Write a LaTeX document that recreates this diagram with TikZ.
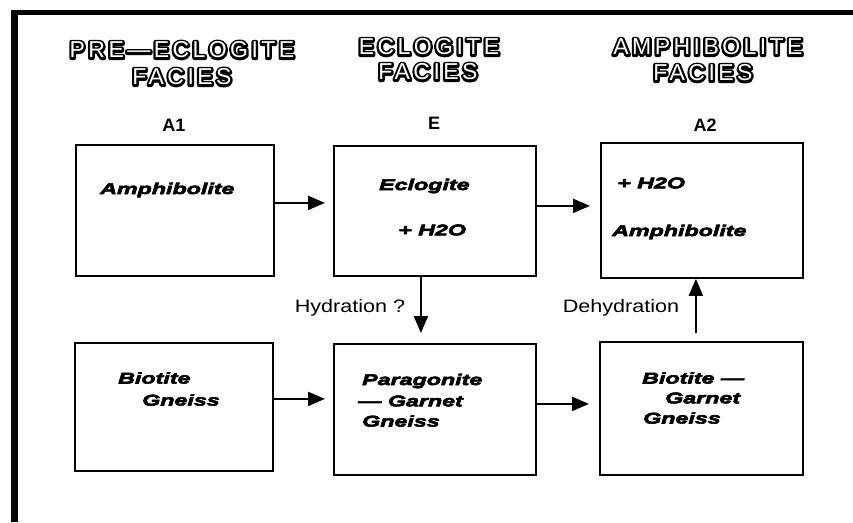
\documentclass[tikz,border=0pt]{standalone}
\usepackage{fontspec}
\setmainfont{Liberation Sans}
\newfontfamily\boxfont[FakeStretch=1.5,FakeBold=4]{Liberation Sans}
\newfontfamily\lblfont[FakeStretch=1.2]{Liberation Sans}
\newfontfamily\hdrfont[LetterSpace=15]{Liberation Sans}
\newfontfamily\hdrback[LetterSpace=15,FakeBold=20]{Liberation Sans}
\usetikzlibrary{arrows.meta}
\newcommand\outlined[1]{%
  \rlap{\hdrback\textcolor{black}{#1}}%
  \textcolor{white}{#1}}
\begin{document}
\begin{tikzpicture}[x=1pt,y=-1pt,
  stage/.style={draw, line width=1.8pt, inner sep=0pt, anchor=north west},
  rock/.style={font=\fontsize{15.5}{18}\boxfont\bfseries\itshape, inner sep=0pt, anchor=west, line join=round},
  hdr/.style={font=\fontsize{23}{26}\hdrfont, inner sep=0pt, line join=round},
  tag/.style={font=\fontsize{18}{20}\selectfont\bfseries, inner sep=0pt},
  lbl/.style={font=\fontsize{18}{20}\lblfont, inner sep=0pt},
  flow/.style={line width=2pt, -{Triangle[length=17pt,width=14pt]}}]
\useasboundingbox (0,0) rectangle (853,522);
% frame
\fill (11,10) rectangle (853,15);
\fill (11,10) rectangle (18,522);
% headers
\node[hdr] (h1a) at (182,50) {\outlined{PRE—ECLOGITE}};
\node[hdr] (h1b) at (182,77) {\outlined{FACIES}};
\node[hdr] (h2a) at (429,47) {\outlined{ECLOGITE}};
\node[hdr] (h2b) at (428,72) {\outlined{FACIES}};
\node[hdr] (h3a) at (708,47) {\outlined{AMPHIBOLITE}};
\node[hdr] (h3b) at (703,73) {\outlined{FACIES}};
% stage tags
\node[tag] (tA1) at (174,125) {A1};
\node[tag] (tE) at (434,123) {E};
\node[tag] (tA2) at (705,125) {A2};
% boxes
\node[stage, minimum width=198pt, minimum height=131pt] (A1) at (75,144) {};
\node[stage, minimum width=202pt, minimum height=130pt] (E) at (333,145) {};
\node[stage, minimum width=202pt, minimum height=135pt] (A2) at (600,142) {};
\node[stage, minimum width=198pt, minimum height=128pt] (BG) at (74,342) {};
\node[stage, minimum width=202pt, minimum height=131pt] (PG) at (333,343) {};
\node[stage, minimum width=203pt, minimum height=133pt] (BGG) at (599,341) {};
% box texts
\node[rock] (t1) at (100,190) {Amphibolite};
\node[rock] (t2) at (379,186) {Eclogite};
\node[rock] (t3) at (398,230) {+ H2O};
\node[rock] (t4) at (617,183) {+ H2O};
\node[rock] (t5) at (612,232) {Amphibolite};
\node[rock] (t6) at (118,378) {Biotite};
\node[rock] (t7) at (142,400) {Gneiss};
\node[rock] (t8) at (362,381) {Paragonite};
\node[rock] (t9) at (358,401) {— Garnet};
\node[rock] (t10) at (362,421) {Gneiss};
\node[rock] (t11) at (642,378) {Biotite —};
\node[rock] (t12) at (665,398) {Garnet};
\node[rock] (t13) at (643,418) {Gneiss};
% arrows
\draw[flow, shorten >=8pt] ([yshift=7.5pt]A1.east) -- ([yshift=8pt]E.west);
\draw[flow, shorten >=10pt] ([yshift=5pt]E.east) -- ([yshift=4.5pt]A2.west);
\draw[flow, shorten >=8pt] ([yshift=8pt]BG.east) -- ([yshift=10.5pt]PG.west);
\draw[flow, shorten >=10pt] ([yshift=5.5pt]PG.east) -- ([yshift=4.5pt]BGG.west);
\draw[flow, shorten >=10pt] ([xshift=-14pt]E.south) -- ([xshift=-14pt]PG.north);
\draw[flow, shorten <=8pt] ([xshift=-5.5pt]BGG.north) -- ([xshift=-6pt]A2.south);
% labels
\node[lbl] (lh) at (350,308) {Hydration ?};
\node[lbl] (ld) at (621,308) {Dehydration};
\end{tikzpicture}
\end{document}
